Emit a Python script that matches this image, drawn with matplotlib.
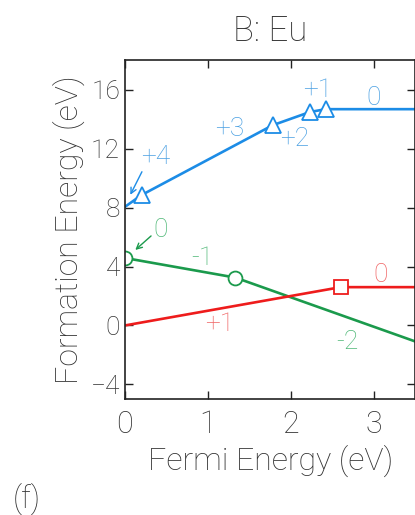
import numpy as np
import matplotlib
matplotlib.use("Agg")
import matplotlib.pyplot as plt

# blue (charge states +4 ... 0), transition points then flat
blue_x = [0.0, 0.2, 1.78, 2.23, 2.42, 3.6]
blue_y = [8.05, 8.85, 13.59, 14.49, 14.68, 14.68]
blue_mx = [0.2, 1.78, 2.23, 2.42]
blue_my = [8.85, 13.59, 14.49, 14.68]

# green (0, -1, -2)
green_x = [0.0, 1.33, 3.6]
green_y = [4.58, 3.25, -1.29]
green_mx = [0.0, 1.33]
green_my = [4.58, 3.25]

# red (+1, 0)
red_x = [0.0, 2.6, 3.6]
red_y = [0.0, 2.6, 2.6]
red_mx = [2.6]
red_my = [2.6]

BLUE, BLUE_T = '#1c8ce6', '#4aa0e2'
GREEN, GREEN_T = '#1b9a4c', '#4fb877'
RED, RED_T = '#ee1c1c', '#f06464'
TXT = '#333333'

plt.rcParams['font.family'] = ['Roboto', 'DejaVu Sans']
plt.rcParams['font.weight'] = 'light'
plt.rcParams['axes.labelweight'] = 'light'
plt.rcParams['axes.titleweight'] = 'light'

fig = plt.figure(figsize=(4.15, 5.15), dpi=100)
ax = fig.add_axes([0.301, 0.225, 0.70, 0.658])

lw = 1.9
ax.plot(blue_x, blue_y, color=BLUE, lw=lw)
ax.plot(blue_mx, blue_my, ls='none', marker='^', ms=11, mfc='white', mec=BLUE, mew=1.3)
ax.plot(green_x, green_y, color=GREEN, lw=lw)
ax.plot(green_mx, green_my, ls='none', marker='o', ms=10, mfc='white', mec=GREEN, mew=1.3)
ax.plot(red_x, red_y, color=RED, lw=lw)
ax.plot(red_mx, red_my, ls='none', marker='s', ms=9.5, mfc='white', mec=RED, mew=1.3)

fs = 19
for s, x, y in [('+4', 0.37, 11.4), ('+3', 1.26, 13.35), ('+2', 2.04, 12.67),
                ('+1', 2.32, 16.0), ('0', 3.0, 15.46)]:
    ax.text(x, y, s, color=BLUE_T, fontsize=fs, ha='center', va='center')
for s, x, y in [('0', 0.43, 6.46), ('-1', 0.93, 4.56), ('-2', 2.68, -1.09)]:
    ax.text(x, y, s, color=GREEN_T, fontsize=fs, ha='center', va='center')
for s, x, y in [('0', 3.08, 3.4), ('+1', 1.14, 0.07)]:
    ax.text(x, y, s, color=RED_T, fontsize=fs, ha='center', va='center')

ax.annotate('', xy=(0.05, 8.7), xytext=(0.22, 10.6),
            arrowprops=dict(arrowstyle='->', color=BLUE, lw=1.0))
ax.annotate('', xy=(0.1, 5.0), xytext=(0.34, 6.2),
            arrowprops=dict(arrowstyle='->', color=GREEN, lw=1.0))

ax.set_xlim(0, 3.5)
ax.set_ylim(-5, 18)
ax.set_xticks([0, 1, 2, 3])
ax.set_yticks([-4, 0, 4, 8, 12, 16])
ax.tick_params(direction='in', length=6, width=1, top=True, right=True, colors='#222222')
ax.tick_params(axis='x', labelsize=22, labelcolor=TXT, pad=8)
ax.tick_params(axis='y', labelsize=19, labelcolor=TXT)
for sp in ax.spines.values():
    sp.set_linewidth(1.2)
    sp.set_color('#222222')

ax.set_xlabel('Fermi Energy (eV)', fontsize=23, color=TXT, fontweight='light')
ax.set_ylabel('Formation Energy (eV)', fontsize=23, color=TXT, fontweight='light')
ax.set_title('B: Eu', fontsize=25, color=TXT, pad=14, fontweight='light')
fig.text(0.03, 0.015, '(f)', fontsize=22, color=TXT)

fig.savefig('out.png', dpi=100)
